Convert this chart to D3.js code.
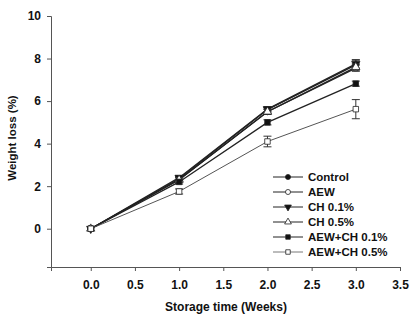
<!DOCTYPE html>
<html>
<head>
<meta charset="utf-8">
<script src="https://cdn.jsdelivr.net/npm/d3@7"></script>
<style>
  body { margin: 0; background: #fff; }
  text { font-family: "Liberation Sans", Arial, sans-serif; font-weight: bold; fill: #111; }
</style>
</head>
<body>
<div id="chart"></div>
<script>
// Daten
const weeks = [0, 1, 2, 3];
const seriesNames = ["Control", "AEW", "CH 0.1%", "CH 0.5%", "AEW+CH 0.1%", "AEW+CH 0.5%"];
const control = [0, 2.35, 5.6, 7.7];
const aew = [0, 2.3, 5.5, 7.55];
const ch01 = [0, 2.4, 5.62, 7.75];
const ch05 = [0, 2.3, 5.5, 7.6];
const aewCh01 = [0, 2.2, 5.0, 6.82];
const aewCh05 = [0, 1.75, 4.1, 5.62];
const errControl = [0, 0.1, 0.12, 0.22];
const errAewCh05 = [0, 0.12, 0.25, 0.45];
const xTicks = [0, 0.5, 1, 1.5, 2, 2.5, 3, 3.5];
const yTicks = [0, 2, 4, 6, 8, 10];

const values = [control, aew, ch01, ch05, aewCh01, aewCh05];
const errors = [errControl, [0, 0.1, 0.12, 0.15], [0, 0.1, 0.12, 0.2], [0, 0.1, 0.12, 0.15], [0, 0.1, 0.12, 0.12], errAewCh05];
const symbols = [
  { type: d3.symbolCircle, fill: "#111" },
  { type: d3.symbolCircle, fill: "#fff" },
  { type: d3.symbolTriangle, fill: "#111", rot: 180 },
  { type: d3.symbolTriangle, fill: "#fff" },
  { type: d3.symbolSquare, fill: "#111" },
  { type: d3.symbolSquare, fill: "#fff" }
];

const width = 415, height = 319;
const svg = d3.select("#chart").append("svg")
  .attr("width", width).attr("height", height);

const x = d3.scaleLinear().domain([-0.45, 3.5]).range([51, 400]);
const y = d3.scaleLinear().domain([-1.8, 10]).range([267, 16]);

// Achsen
svg.append("g")
  .attr("transform", "translate(0,267)")
  .call(d3.axisBottom(x).tickValues(xTicks).tickFormat(d3.format(".1f")).tickSizeOuter(0).tickSize(4).tickPadding(9))
  .call(g => g.selectAll("text").style("font-size", "12px"));

svg.append("g")
  .attr("transform", "translate(51,0)")
  .call(d3.axisLeft(y).tickValues(yTicks).tickSizeOuter(0).tickSize(4).tickPadding(6))
  .call(g => g.selectAll("text").style("font-size", "12px"));

svg.selectAll(".domain, .tick line").attr("stroke", "#555");

svg.append("text")
  .attr("x", 226).attr("y", 311)
  .attr("text-anchor", "middle")
  .style("font-size", "12px")
  .text("Storage time (Weeks)");

svg.append("text")
  .attr("transform", "translate(16,138) rotate(-90)")
  .attr("text-anchor", "middle")
  .style("font-size", "11.5px")
  .text("Weight loss (%)");

// Linien
const line = d3.line().x((d, i) => x(weeks[i])).y(d => y(d));

values.forEach((vals, s) => {
  const g = svg.append("g");
  g.append("path")
    .datum(vals)
    .attr("fill", "none")
    .attr("stroke", s === 5 ? "#555" : "#222")
    .attr("stroke-width", s === 5 ? 1 : 1.3)
    .attr("d", line);

  // Fehlerbalken
  vals.forEach((v, i) => {
    const e = errors[s][i];
    if (e <= 0) return;
    const cx = x(weeks[i]);
    g.append("line").attr("x1", cx).attr("x2", cx).attr("y1", y(v - e)).attr("y2", y(v + e)).attr("stroke", "#333");
    [v - e, v + e].forEach(t => {
      g.append("line").attr("x1", cx - 4).attr("x2", cx + 4).attr("y1", y(t)).attr("y2", y(t)).attr("stroke", "#333");
    });
  });

  const sym = symbols[s];
  g.selectAll("path.pt")
    .data(vals)
    .join("path")
    .attr("class", "pt")
    .attr("d", d3.symbol().type(sym.type).size(30))
    .attr("transform", (d, i) => `translate(${x(weeks[i])},${y(d)}) rotate(${sym.rot || 0})`)
    .attr("fill", sym.fill)
    .attr("stroke", "#222")
    .attr("stroke-width", 0.8);
});

// Legende
const legend = svg.append("g");
seriesNames.forEach((name, i) => {
  const ly = 177 + i * 15;
  const item = legend.append("g");
  item.append("line").attr("x1", 273).attr("x2", 303).attr("y1", ly).attr("y2", ly)
    .attr("stroke", i === 5 ? "#555" : "#222").attr("stroke-width", i === 5 ? 0.8 : 1);
  const sym = symbols[i];
  item.append("path")
    .attr("d", d3.symbol().type(sym.type).size(20))
    .attr("transform", `translate(288,${ly}) rotate(${sym.rot || 0})`)
    .attr("fill", sym.fill).attr("stroke", "#222").attr("stroke-width", 0.8);
  item.append("text")
    .attr("x", 308).attr("y", ly).attr("dy", "0.35em")
    .style("font-size", "11.5px")
    .text(name);
});
</script>
</body>
</html>
